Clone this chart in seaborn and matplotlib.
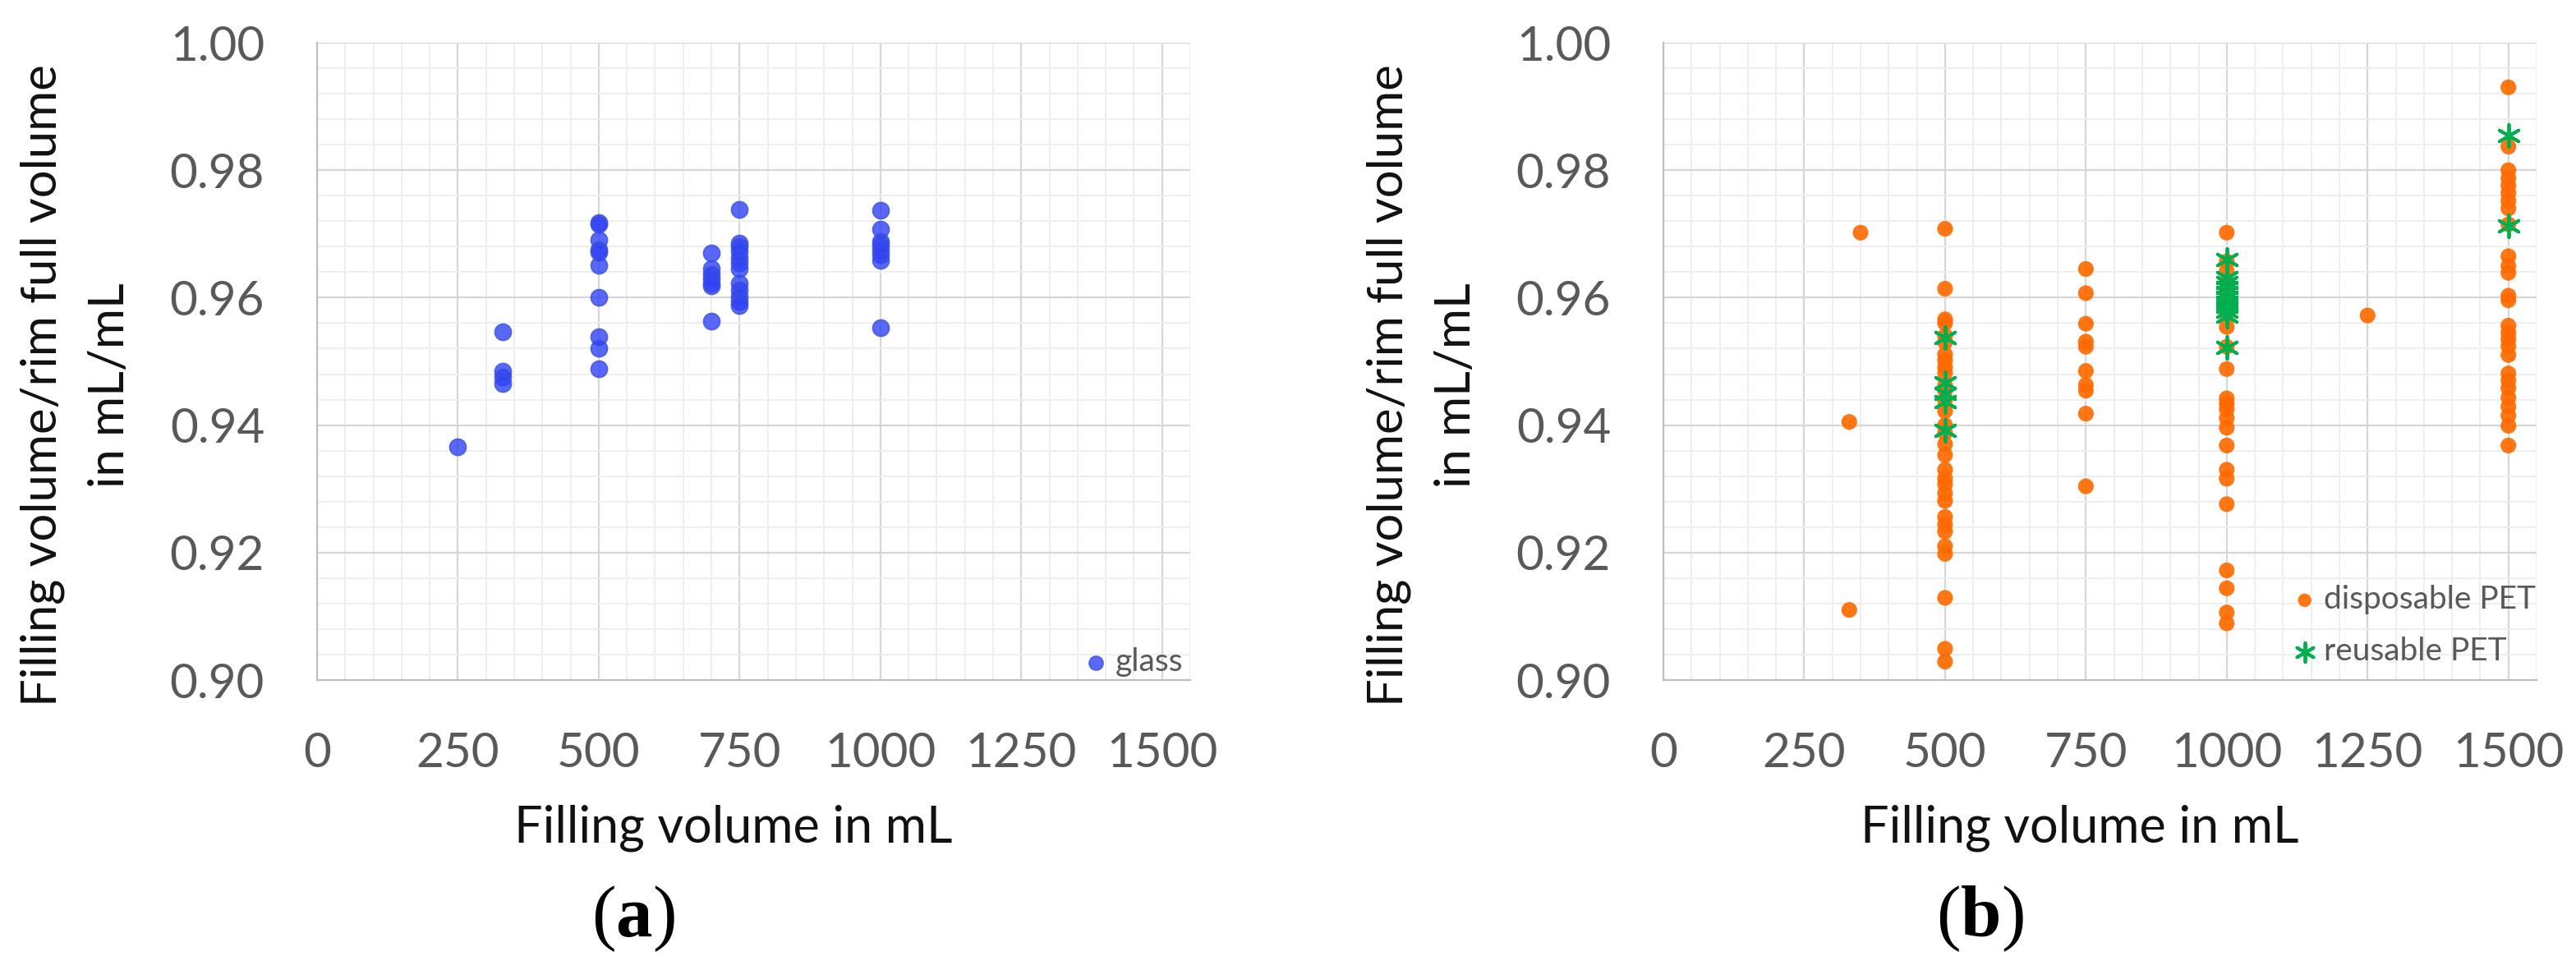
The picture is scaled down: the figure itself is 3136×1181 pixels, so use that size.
import numpy as np
import pandas as pd
import matplotlib
matplotlib.use("Agg")
import matplotlib.pyplot as plt
from matplotlib.ticker import MultipleLocator, FormatStrFormatter
import seaborn as sns

# ---------------- data ----------------
glass_x = [250] + [330] * 4 + [500] * 10 + [700] * 7 + [750] * 12 + [1000] * 8
glass_y = [0.9366,
           0.9546, 0.9485, 0.9475, 0.9465,
           0.9718, 0.9715, 0.9691, 0.9675, 0.9672, 0.9651, 0.9600, 0.9539, 0.9521, 0.9488,
           0.9670, 0.9645, 0.9637, 0.9630, 0.9622, 0.9618, 0.9563,
           0.9739, 0.9686, 0.9680, 0.9673, 0.9663, 0.9655, 0.9645, 0.9622, 0.9612, 0.9602, 0.9594, 0.9587,
           0.9737, 0.9708, 0.9688, 0.9683, 0.9675, 0.9668, 0.9659, 0.9553]

disp_y_330 = [0.9405, 0.9110]
disp_y_350 = [0.9702]
disp_y_500 = [0.9708, 0.9614, 0.9566, 0.9560, 0.9540, 0.9530, 0.9511, 0.9502, 0.9491, 0.9482,
              0.9462, 0.9454, 0.9439, 0.9422, 0.9400, 0.9388, 0.9370, 0.9353, 0.9330, 0.9316,
              0.9307, 0.9293, 0.9281, 0.9256, 0.9244, 0.9233, 0.9210, 0.9198, 0.9129, 0.9049, 0.9029]
disp_y_750 = [0.9645, 0.9607, 0.9559, 0.9531, 0.9523, 0.9485, 0.9463, 0.9454, 0.9418, 0.9304]
disp_y_1000 = [0.9702, 0.9657, 0.9642, 0.9625, 0.9610, 0.9595, 0.9575, 0.9554, 0.9523, 0.9488,
               0.9442, 0.9434, 0.9425, 0.9411, 0.9396, 0.9368, 0.9330, 0.9316, 0.9276, 0.9172,
               0.9144, 0.9106, 0.9089]
disp_y_1250 = [0.9572]
disp_y_1500 = [0.9930, 0.9837, 0.9800, 0.9787, 0.9776, 0.9764, 0.9752, 0.9740, 0.9715, 0.9665,
               0.9650, 0.9639, 0.9603, 0.9596, 0.9556, 0.9545, 0.9535, 0.9524, 0.9510, 0.9481,
               0.9470, 0.9458, 0.9443, 0.9429, 0.9415, 0.9399, 0.9368]

reus_y_500 = [0.9537, 0.9466, 0.9450, 0.9437, 0.9392]
reus_y_1000 = [0.9660, 0.9632, 0.9624, 0.9616, 0.9608, 0.9600, 0.9593, 0.9586, 0.9578, 0.9571, 0.9522]
reus_y_1500 = [0.9855, 0.9712]

x_ticks = [0, 250, 500, 750, 1000, 1250, 1500]
y_ticks = [0.90, 0.92, 0.94, 0.96, 0.98, 1.00]

xlabel = "Filling volume in mL"
ylabel_1 = "Filling volume/rim full volume"
ylabel_2 = "in mL/mL"

# ---------------- build tables ----------------
def groups(d):
    xs, ys = [], []
    for k, v in d.items():
        xs += [k] * len(v)
        ys += v
    return xs, ys

glass_df = pd.DataFrame({"x": glass_x, "y": glass_y})
dx, dy = groups({330: disp_y_330, 350: disp_y_350, 500: disp_y_500, 750: disp_y_750,
                 1000: disp_y_1000, 1250: disp_y_1250, 1500: disp_y_1500})
disp_df = pd.DataFrame({"x": dx, "y": dy})
rx, ry = groups({500: reus_y_500, 1000: reus_y_1000, 1500: reus_y_1500})
reus_df = pd.DataFrame({"x": rx, "y": ry})

# ---------------- style ----------------
sns.set_theme(style="white")
plt.rcParams["font.family"] = ["Lato", "DejaVu Sans"]
plt.rcParams["mathtext.fontset"] = "custom"
plt.rcParams["mathtext.rm"] = "Liberation Serif"
plt.rcParams["mathtext.bf"] = "Liberation Serif:bold"

W, H = 3136, 1181
fig = plt.figure(figsize=(W / 100, H / 100), dpi=100)

def px_axes(l, r, t, b):
    return [l / W, 1 - b / H, (r - l) / W, (b - t) / H]

TICK_GRAY = "#595959"

def style_axes(ax):
    ax.set_xlim(0, 1550)
    ax.set_ylim(0.90, 1.00)
    ax.xaxis.set_major_locator(MultipleLocator(250))
    ax.xaxis.set_minor_locator(MultipleLocator(50))
    ax.yaxis.set_major_locator(MultipleLocator(0.02))
    ax.yaxis.set_minor_locator(MultipleLocator(0.004))
    ax.yaxis.set_major_formatter(FormatStrFormatter("%.2f"))
    ax.set_xticks(x_ticks)
    ax.set_yticks(y_ticks)
    ax.grid(which="major", color="#d6d6d6", linewidth=1.6)
    ax.grid(which="minor", color="#eeeeee", linewidth=1.4)
    ax.set_axisbelow(True)
    ax.tick_params(which="both", length=0)
    ax.tick_params(axis="y", labelsize=42, colors=TICK_GRAY, pad=46)
    ax.tick_params(axis="x", labelsize=42, colors=TICK_GRAY, pad=45)
    for s in ["top", "right"]:
        ax.spines[s].set_visible(False)
    for s in ["left", "bottom"]:
        ax.spines[s].set_color("#bfbfbf")
        ax.spines[s].set_linewidth(1.6)
    ax.set_xlabel("")
    ax.set_ylabel("")

# ---- panel (a) ----
ax1 = fig.add_axes(px_axes(386, 1449, 52, 828))
sns.scatterplot(data=glass_df, x="x", y="y", ax=ax1, s=210, color="#3042F5",
                alpha=0.8, edgecolor="#3a52d8", linewidth=1.2, label="glass", zorder=3)
style_axes(ax1)
leg1 = ax1.legend(loc="center right", bbox_to_anchor=(1440 / W, 1 - 806 / H),
                  bbox_transform=fig.transFigure, frameon=False, fontsize=28,
                  handlelength=0.6, handletextpad=0.3, borderpad=0, borderaxespad=0,
                  markerscale=0.85)
for t in leg1.get_texts():
    t.set_color(TICK_GRAY)

# ---- panel (b) ----
ax2 = fig.add_axes(px_axes(2025, 3088, 52, 828))
sns.scatterplot(data=disp_df, x="x", y="y", ax=ax2, s=190, color="#FF6A00",
                alpha=0.92, edgecolor="none", label="disposable PET", zorder=3)
sns.scatterplot(data=reus_df, x="x", y="y", ax=ax2, s=380, marker=(6, 2, 0),
                color="#00B050", edgecolor="#00B050", linewidth=2.8,
                label="reusable PET", zorder=4)
style_axes(ax2)
leg2 = ax2.legend(loc="upper left", bbox_to_anchor=(2794 / W, 1 - 712 / H),
                  bbox_transform=fig.transFigure, frameon=False, fontsize=28,
                  handlelength=0.6, handletextpad=0.3, borderpad=0, borderaxespad=0,
                  labelspacing=0.7, markerscale=0.85)
for t in leg2.get_texts():
    t.set_color(TICK_GRAY)

# ---- axis titles and panel letters ----
for off in (0, 1639):
    fig.text((893 + off) / W, 1 - 1008 / H, xlabel, ha="center", va="center",
             fontsize=44, color="#111111")
for off in (0, 1639):
    fig.text((52 + off) / W, 1 - 469 / H, ylabel_1, ha="center", va="center",
             rotation=90, fontsize=43, color="#111111")
    fig.text((134 + off) / W, 1 - 469 / H, ylabel_2, ha="center", va="center",
             rotation=90, fontsize=43, color="#111111")

for xc, letter in ((771, "a"), (2410, "b")):
    fig.text(xc / W, 1 - 1119 / H, "(" + r"$\mathbf{" + letter + "}$" + ")",
             ha="center", va="center", fontsize=64, color="black",
             family=["Liberation Serif", "DejaVu Serif"])

fig.savefig("out.png", dpi=100)
